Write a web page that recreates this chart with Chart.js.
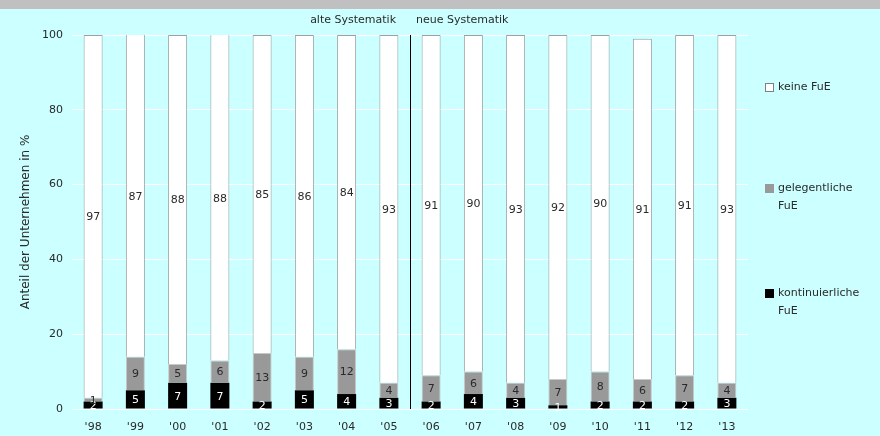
<!DOCTYPE html>
<html>
<head>
<meta charset="utf-8">
<script src="https://cdn.jsdelivr.net/npm/chart.js@4"></script>
<style>
  html, body { margin: 0; padding: 0; background: #ccffff; }
  #band { height: 9px; background: #c0c0c0; }
  #wrap { position: absolute; left: 0; top: 0; width: 880px; height: 436px; }
</style>
</head>
<body>
<div id="band"></div>
<div id="wrap"><canvas id="chart"></canvas></div>
<script>
  const years = ["'98", "'99", "'00", "'01", "'02", "'03", "'04", "'05", "'06", "'07", "'08", "'09", "'10", "'11", "'12", "'13"];
  const kontinuierlich = [2, 5, 7, 7, 2, 5, 4, 3, 2, 4, 3, 1, 2, 2, 2, 3];
  const gelegentlich = [1, 9, 5, 6, 13, 9, 12, 4, 7, 6, 4, 7, 8, 6, 7, 4];
  const keine = [97, 87, 88, 88, 85, 86, 84, 93, 91, 90, 93, 92, 90, 91, 91, 93];
  const yTicks = [0, 20, 40, 60, 80, 100];
  const legendItems = [
    { lines: ['keine FuE'], fill: '#ffffff', stroke: '#808080', y: 87 },
    { lines: ['gelegentliche', 'FuE'], fill: '#999999', stroke: '#999999', y: 188 },
    { lines: ['kontinuierliche', 'FuE'], fill: '#000000', stroke: '#000000', y: 293 }
  ];

  const FONT = "'DejaVu Sans', Verdana, sans-serif";
  const TEXT = '#2a2a2a';
  Chart.defaults.font.family = FONT;
  Chart.defaults.font.size = 11;
  Chart.defaults.color = TEXT;

  const extras = {
    id: 'extras',
    afterDatasetsDraw(chart) {
      const ctx = chart.ctx;
      const area = chart.chartArea;
      const x = chart.scales.x;
      ctx.save();
      ctx.font = '11px ' + FONT;
      ctx.textAlign = 'center';
      ctx.textBaseline = 'middle';
      chart.data.datasets.forEach((ds, di) => {
        const meta = chart.getDatasetMeta(di);
        meta.data.forEach((bar, i) => {
          const top = Math.max(bar.y, area.top);
          const bottom = bar.base;
          ctx.fillStyle = di === 0 ? '#ffffff' : TEXT;
          ctx.fillText(String(ds.data[i]), bar.x, (top + bottom) / 2 + 1);
        });
      });
      // Trennlinie alte / neue Systematik
      const xd = (x.getPixelForValue(7) + x.getPixelForValue(8)) / 2;
      ctx.strokeStyle = '#000';
      ctx.lineWidth = 1;
      ctx.beginPath();
      ctx.moveTo(Math.round(xd) + 0.5, area.top);
      ctx.lineTo(Math.round(xd) + 0.5, area.bottom);
      ctx.stroke();
      ctx.fillStyle = TEXT;
      ctx.textAlign = 'right';
      ctx.fillText('alte Systematik', xd - 14, 20);
      ctx.textAlign = 'left';
      ctx.fillText('neue Systematik', xd + 6, 20);
      // Legende
      legendItems.forEach(it => {
        ctx.fillStyle = it.fill;
        ctx.fillRect(765, it.y - 4, 9, 9);
        ctx.strokeStyle = it.stroke;
        ctx.strokeRect(765.5, it.y - 3.5, 8, 8);
        ctx.fillStyle = TEXT;
        it.lines.forEach((t, k) => ctx.fillText(t, 778, it.y + k * 18));
      });
      ctx.restore();
    }
  };

  new Chart(document.getElementById('chart'), {
    type: 'bar',
    data: {
      labels: years,
      datasets: [
        { label: 'kontinuierliche FuE', data: kontinuierlich, backgroundColor: '#000000', borderColor: '#000000', borderWidth: 0 },
        { label: 'gelegentliche FuE', data: gelegentlich, backgroundColor: '#999999', borderColor: '#c8c8c8', borderWidth: 1 },
        { label: 'keine FuE', data: keine, backgroundColor: '#ffffff', borderColor: '#a0a0a0', borderWidth: 1 }
      ]
    },
    options: {
      responsive: true,
      maintainAspectRatio: false,
      animation: false,
      layout: { padding: { left: 0, right: 132, top: 35, bottom: 0 } },
      categoryPercentage: 1,
      barPercentage: 0.45,
      plugins: { legend: { display: false }, tooltip: { enabled: false } },
      scales: {
        x: {
          stacked: true,
          grid: { display: false, drawTicks: false },
          border: { display: false },
          ticks: { padding: 12, color: TEXT },
          afterFit(s) { s.height = 27; }
        },
        y: {
          stacked: true,
          min: 0,
          max: 100,
          afterBuildTicks(s) { s.ticks = yTicks.map(v => ({ value: v })); },
          grid: { color: '#ffffff', lineWidth: 1, drawTicks: false },
          border: { display: false },
          ticks: { padding: 9, color: TEXT },
          title: { display: true, text: 'Anteil der Unternehmen in %', padding: { top: 19, bottom: 0 }, color: TEXT, font: { size: 12 } },
          afterFit(s) { s.width = 72; }
        }
      }
    },
    plugins: [extras]
  });
</script>
</body>
</html>
